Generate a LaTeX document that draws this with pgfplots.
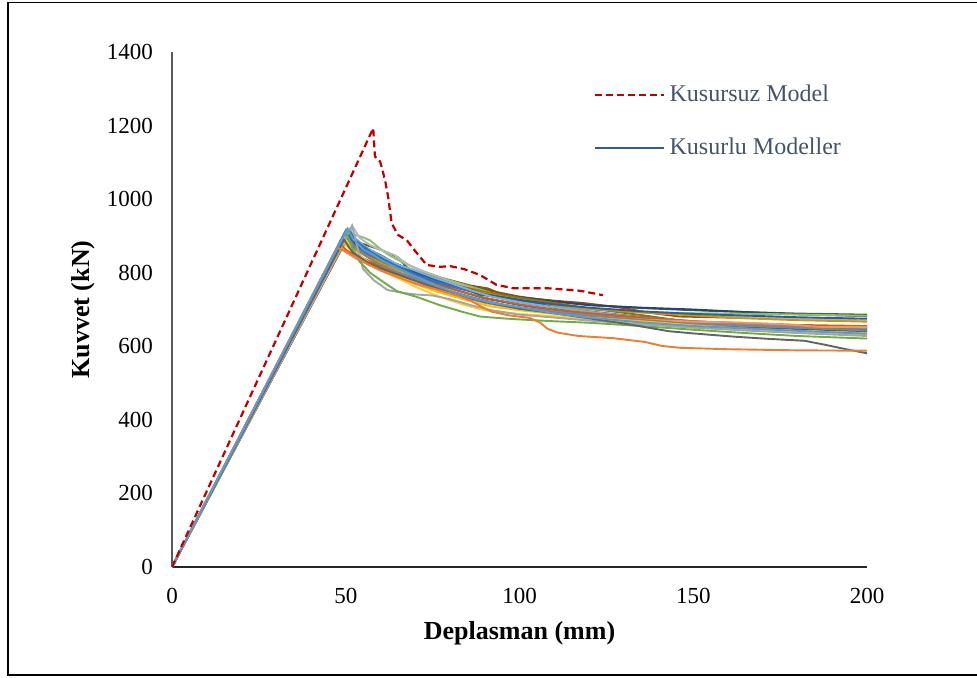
\documentclass[border=0pt]{standalone}
\usepackage{fontspec}
\setmainfont{Liberation Serif}
\usepackage{pgfplots}
\pgfplotsset{compat=1.18}
\definecolor{c1}{HTML}{4472C4}
\definecolor{c2}{HTML}{ED7D31}
\definecolor{c3}{HTML}{A5A5A5}
\definecolor{c4}{HTML}{FFC000}
\definecolor{c5}{HTML}{5B9BD5}
\definecolor{c6}{HTML}{70AD47}
\definecolor{c7}{HTML}{264478}
\definecolor{c8}{HTML}{9E480E}
\definecolor{c9}{HTML}{636363}
\definecolor{c10}{HTML}{997300}
\definecolor{c11}{HTML}{255E91}
\definecolor{c12}{HTML}{43682B}
\definecolor{c13}{HTML}{698ED0}
\definecolor{c14}{HTML}{F1975A}
\definecolor{c15}{HTML}{B7B7B7}
\definecolor{c16}{HTML}{FFCD33}
\definecolor{c17}{HTML}{7CAFDD}
\definecolor{c18}{HTML}{8CC168}
\definecolor{c19}{HTML}{335AA1}
\definecolor{c20}{HTML}{D26012}
\definecolor{c21}{HTML}{848484}
\definecolor{c22}{HTML}{CC9A00}
\definecolor{c23}{HTML}{2E75B6}
\definecolor{redd}{HTML}{C00000}
\definecolor{legblue}{HTML}{2E5E8E}
\definecolor{legtext}{HTML}{44546A}
\begin{document}
\begin{tikzpicture}
\useasboundingbox (0,0) rectangle (488.5pt,338.5pt);
\draw[line width=0.8pt] (4pt,1pt) rectangle (495pt,337.25pt);
\begin{axis}[
  at={(86pt,55pt)}, anchor=south west,
  scale only axis, width=347.5pt, height=257.5pt,
  xmin=0, xmax=200, ymin=0, ymax=1400,
  xtick={0,50,100,150,200}, ytick={0,200,400,600,800,1000,1200,1400},
  axis x line=bottom, axis y line=left,
  x axis line style={-, draw=black!85, line width=0.8pt},
  y axis line style={-, draw=black!65, line width=1pt},
  major tick length=0pt,
  /pgf/number format/assume math mode=true,
  /pgf/number format/1000 sep={},
  tick label style={font=\fontsize{11.5}{13}\selectfont},
  xticklabel style={yshift=-7pt},
  yticklabel style={xshift=-6pt},
  xlabel={Deplasman (mm)}, ylabel={Kuvvet (kN)},
  every axis x label/.style={at={(axis description cs:0.5,0)}, anchor=center, yshift=-33pt, font=\fontsize{13}{15}\selectfont\bfseries},
  every axis y label/.style={at={(axis description cs:0,0.5)}, xshift=-44.5pt, rotate=90, anchor=center, font=\fontsize{13}{15}\selectfont\bfseries},
  legend style={draw=none, fill=none, at={(axis description cs:0.6058,0.938)}, anchor=north west,
    inner sep=0pt, row sep=15.5pt, column sep=2.5pt,
    nodes={inner sep=0pt, text height=8.5pt, text depth=2.5pt, text=legtext, font=\fontsize{12}{14}\selectfont}},
  legend cell align=left,
  legend image code/.code={\draw[#1] (0pt,0pt) -- (34.5pt,0pt);},
]
\addlegendimage{redd, line width=1.1pt, dash pattern=on 3.5pt off 2pt}
\addlegendentry{Kusursuz Model}
\addlegendimage{legblue, line width=1.1pt}
\addlegendentry{Kusurlu Modeller}

\pgfplotsset{every axis plot/.append style={line width=0.95pt, forget plot}}

\addplot[c12] coordinates {(0,0)(51,905)(53,885)(56,875)(59,866)(62,855)(65,842)(68,810)(72,795)(77,786)(84,767)(91,752)(100,735)(110,722)(120,712)(135,704)(150,698)(165,693)(180,689)(200,686)};
\addplot[c8] coordinates {(0,0)(50.5,895)(52,870)(55,850)(59,828)(63,818)(67.6,807)(74,794)(80,780)(86,765)(91,757)(94,745)(100,733)(110,724)(118,718)(125,710)(130,704)(135,695)(140,688)(146,681)(160,678)(180,676)(197,674)};
\addplot[c7] coordinates {(0,0)(50,905)(53,878)(56,860)(60,842)(65,822)(70,800)(75,785)(80,772)(88,745)(95,738)(100,733)(110,722)(120,712)(135,705)(150,700)(165,693)(180,687)(200,682)};
\addplot[c18] coordinates {(0,0)(51,910)(53,902)(55,896)(57,888)(59,872)(61,857)(63,845)(67,825)(72,805)(78,785)(85,765)(92,745)(100,725)(110,710)(120,700)(135,693)(150,690)(170,688)(200,683)};
\addplot[c15] coordinates {(0,0)(52,925)(54,895)(57,875)(60,862)(64,848)(68,822)(73,800)(80,775)(88,752)(95,738)(100,728)(110,715)(120,702)(135,692)(150,685)(170,678)(200,670)};
\addplot[c10] coordinates {(0,0)(50,900)(53,872)(56,850)(60,832)(65,812)(70,795)(76,778)(82,765)(90,748)(100,732)(110,718)(120,703)(135,685)(150,665)(165,660)(181,653)(188,643)(200,641)};
\addplot[c22] coordinates {(0,0)(49.5,890)(52,868)(56,845)(60,826)(65,808)(70,790)(78,768)(86,752)(95,735)(100,725)(110,712)(120,702)(135,692)(150,684)(165,676)(180,671)(200,667)};
\addplot[c19] coordinates {(0,0)(50,910)(53,875)(57,852)(60,838)(64,820)(70,798)(76,778)(82,762)(90,742)(100,726)(110,714)(120,705)(135,695)(150,688)(180,679)(200,675)};
\addplot[c1] coordinates {(0,0)(50,915)(52,872)(55,856)(58,845)(62,828)(66,812)(70,795)(76,775)(82,758)(90,740)(100,720)(110,706)(120,695)(135,680)(150,668)(165,660)(180,655)(200,652)};
\addplot[c11] coordinates {(0,0)(50.5,912)(53,885)(57,862)(60,848)(64,826)(70,805)(76,785)(82,765)(88.6,740)(95,733)(100,726)(106,715)(112,700)(117,682)(125,670)(132,663)(150,656)(170,650)(200,641)};
\addplot[c17] coordinates {(0,0)(51,918)(53,892)(56,868)(60,846)(65,822)(70,806)(75,788)(80,772)(86,752)(92,735)(100,720)(110,706)(120,694)(135,678)(150,668)(180,655)(200,648)};
\addplot[c23] coordinates {(0,0)(51,915)(53,886)(57,858)(61,836)(66,812)(70,796)(76,772)(82,752)(90,730)(100,712)(110,698)(120,688)(135,675)(150,665)(180,652)(200,647)};
\addplot[c13] coordinates {(0,0)(49,890)(52,862)(55,840)(59,820)(63,806)(68,786)(74,765)(80,750)(88,728)(95,714)(100,706)(110,695)(120,686)(135,672)(150,664)(180,653)(200,650)};
\addplot[c20] coordinates {(0,0)(48.5,880)(50,862)(53,846)(56,835)(60,818)(65,800)(70,786)(76,768)(82,752)(90,732)(100,714)(110,700)(120,690)(135,678)(150,668)(180,658)(200,655)};
\addplot[c14] coordinates {(0,0)(48,872)(50,856)(53,838)(57,820)(60,808)(65,790)(70,772)(76,752)(82,738)(90,718)(100,700)(110,690)(120,682)(135,673)(150,667)(165,664)(180,658)(186,652)(200,652)};
\addplot[c21] coordinates {(0,0)(50,900)(53,866)(57,838)(60,822)(65,802)(70,784)(76,762)(82,745)(90,724)(100,704)(110,692)(120,683)(135,672)(150,660)(180,650)(200,643)};
\addplot[c4] coordinates {(0,0)(49,885)(51,866)(54,845)(57,825)(60,810)(65,790)(70,770)(75,752)(80,738)(86,722)(92,708)(100,698)(110,688)(120,678)(135,668)(150,657)(165,648)(180,642)(200,636)};
\addplot[c16] coordinates {(0,0)(49.5,895)(52,860)(55,840)(58,818)(61,802)(65,785)(70,762)(75,742)(80,725)(85,710)(90,698)(100,688)(110,682)(120,674)(135,662)(150,650)(180,638)(200,630)};
\addplot[c3] coordinates {(0,0)(51.8,928)(53,882)(55,810)(58,780)(62,753)(66.5,745)(70,741)(75,738)(80,728)(86,712)(92,698)(100,686)(110,678)(120,670)(135,660)(150,651)(165,643)(180,636)(200,628)};
\addplot[c6] coordinates {(0,0)(50,910)(52,865)(54,830)(57,800)(60,780)(64.7,750)(70.5,734)(77,712)(83.8,693)(88.6,681)(95,676)(100,673)(110,668)(120,664)(135,655)(150,645)(165,636)(180,628)(200,621)};
\addplot[c9] coordinates {(0,0)(49.5,890)(52,855)(56,830)(60,812)(65,795)(70,778)(76,758)(82,740)(90,720)(100,702)(110,690)(120,676)(130,662)(143,641)(150,635)(162,626)(172,620)(182,615)(188,604)(194,592)(200,581)};
\addplot[c2] coordinates {(0,0)(47.5,868)(50,858)(53,842)(56,825)(60,806)(65,788)(70,770)(76,755)(82,738)(86,724)(89,708)(92,694)(97,684)(103,677)(106,664)(108,648)(111,637)(117,628)(127,622)(136,612)(141,601)(146,596)(160,592)(180,589)(200,588)};
\addplot[c5] coordinates {(0,0)(50.5,920)(52,892)(55,864)(58,848)(60,835)(65,812)(70,790)(75,770)(80,750)(86,732)(92,718)(100,706)(110,690)(120,678)(135,665)(150,655)(180,642)(200,634)};

\addplot[redd, line width=1.1pt, dash pattern=on 3.5pt off 2pt] coordinates {(0,0)(57.9,1193)(58.4,1116)(59.9,1102)(61.3,1052)(62.2,1006)(63.2,935)(65,903)(67.5,889)(70.4,854)(73.3,821)(77.1,816)(80,818)(84,810)(88.6,794)(93.4,767)(98.1,758)(107.8,758)(117.4,751)(124,739)};
\end{axis}
\end{tikzpicture}
\end{document}
